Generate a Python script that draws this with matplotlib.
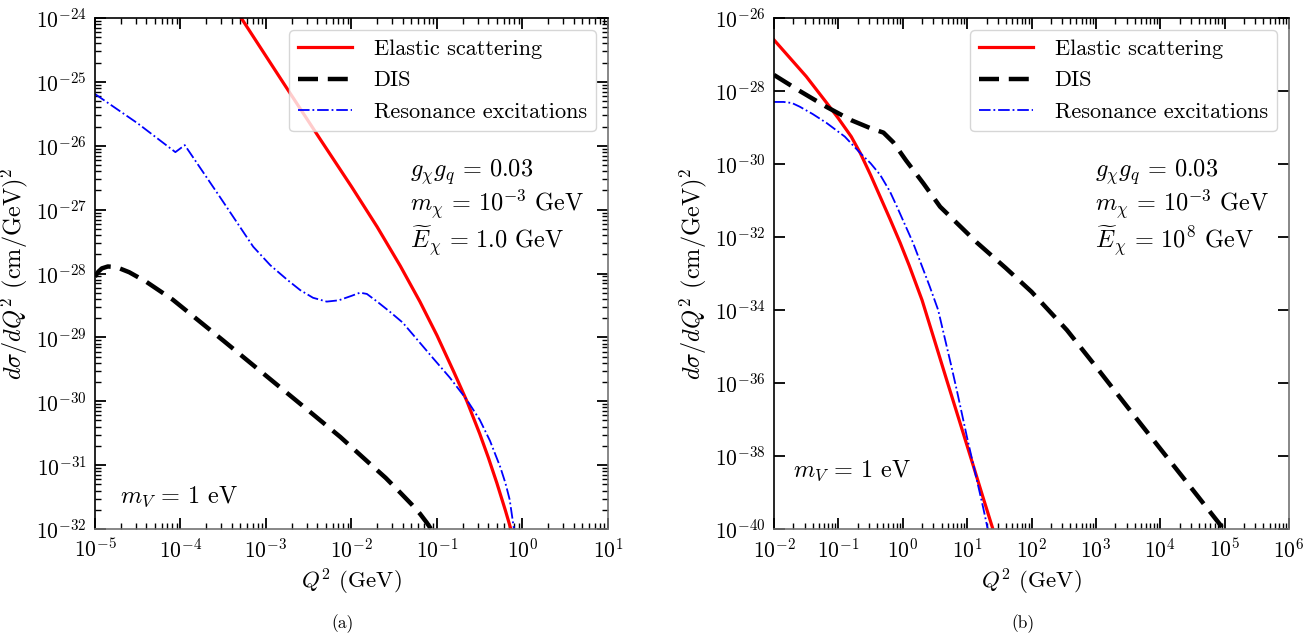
import numpy as np
import matplotlib
matplotlib.use("Agg")
import matplotlib.pyplot as plt
from matplotlib.ticker import LogLocator, NullFormatter, NullLocator

plt.rcParams['font.family'] = 'serif'
plt.rcParams['font.serif'] = ['cmr10']
plt.rcParams['mathtext.fontset'] = 'cm'
plt.rcParams['axes.formatter.use_mathtext'] = True

# ---------------- Panel (a): E = 1 GeV (log10 values) ----------------
a_el_logx = [-3.36, -3.29, -2.80, -2.37, -2.00, -1.70, -1.43, -1.20, -1.00, -0.80, -0.65, -0.50, -0.40, -0.30, -0.20, -0.13, -0.11]
a_el_logy = [-23.86, -24.0, -25.01, -25.89, -26.64, -27.27, -27.88, -28.44, -28.97, -29.55, -30.00, -30.51, -30.88, -31.28, -31.71, -32.03, -32.12]

a_res_logx = [-5.0, -4.5, -4.06, -4.02, -3.95, -3.54, -3.15, -2.95, -2.75, -2.60, -2.45, -2.29, -2.15, -2.00, -1.90, -1.82, -1.70, -1.55, -1.40, -1.05, -0.85, -0.65, -0.50, -0.38, -0.26, -0.20, -0.15, -0.10, -0.09]
a_res_logy = [-25.19, -25.65, -26.10, -26.06, -25.99, -26.80, -27.58, -27.87, -28.10, -28.26, -28.38, -28.44, -28.42, -28.35, -28.30, -28.32, -28.44, -28.60, -28.77, -29.32, -29.63, -29.98, -30.29, -30.62, -31.03, -31.28, -31.54, -32.0, -32.1]

a_dis_logx = [-5.0, -4.96, -4.92, -4.85, -4.75, -4.60, -4.40, -4.09, -3.50, -3.00, -2.50, -2.13, -1.80, -1.60, -1.43, -1.30, -1.20, -1.12, -1.06, -1.05]
a_dis_logy = [-28.05, -27.97, -27.92, -27.89, -27.90, -27.98, -28.13, -28.41, -29.05, -29.60, -30.15, -30.56, -30.96, -31.20, -31.43, -31.61, -31.76, -31.90, -32.02, -32.1]

# ---------------- Panel (b): E = 1e8 GeV (log10 values) ----------------
b_el_logx = [-2.0, -1.75, -1.50, -1.18, -1.00, -0.80, -0.66, -0.50, -0.35, -0.20, -0.04, 0.10, 0.30, 0.50, 0.69, 0.90, 1.10, 1.25, 1.40, 1.42]
b_el_logy = [-26.6, -27.1, -27.6, -28.33, -28.75, -29.25, -29.70, -30.30, -30.90, -31.50, -32.16, -32.78, -33.73, -34.87, -35.96, -37.15, -38.29, -39.15, -40.0, -40.1]

b_res_logx = [-2.0, -1.85, -1.72, -1.60, -1.40, -1.18, -0.90, -0.66, -0.50, -0.35, -0.20, -0.09, 0.16, 0.42, 0.55, 0.65, 0.75, 0.84, 1.00, 1.15, 1.25, 1.32, 1.33]
b_res_logy = [-28.30, -28.30, -28.33, -28.43, -28.63, -28.88, -29.25, -29.70, -29.98, -30.30, -30.75, -31.17, -32.16, -33.36, -34.00, -34.75, -35.50, -36.20, -37.50, -38.65, -39.42, -40.0, -40.1]

b_dis_logx = [-2.0, -1.60, -1.18, -0.80, -0.50, -0.30, -0.15, 0.05, 0.32, 0.58, 0.90, 1.15, 1.60, 2.00, 2.55, 3.00, 3.58, 4.00, 4.35, 4.60, 4.80, 4.93, 4.97, 4.98]
b_dis_logy = [-27.56, -28.0, -28.44, -28.80, -29.02, -29.14, -29.40, -29.90, -30.53, -31.17, -31.72, -32.15, -32.85, -33.50, -34.55, -35.55, -36.86, -37.80, -38.58, -39.14, -39.59, -39.88, -40.0, -40.1]

labels = ["Elastic scattering", "DIS", "Resonance excitations"]

fig = plt.figure(figsize=(13.15, 6.37), dpi=100)
axA = fig.add_axes([95/1315, 108/637, 513/1315, 511/637])
axB = fig.add_axes([774/1315, 108/637, 515/1315, 511/637])

def P(v):
    return 10.0 ** np.array(v)

for ax, el, dis, res in [
    (axA, (a_el_logx, a_el_logy), (a_dis_logx, a_dis_logy), (a_res_logx, a_res_logy)),
    (axB, (b_el_logx, b_el_logy), (b_dis_logx, b_dis_logy), (b_res_logx, b_res_logy)),
]:
    ax.plot(P(el[0]), P(el[1]), color='red', lw=2.3, label=labels[0], solid_joinstyle='round')
    ax.plot(P(dis[0]), P(dis[1]), color='black', lw=3.2, dashes=(4.5, 2.2), label=labels[1])
    ax.plot(P(res[0]), P(res[1]), color='blue', lw=1.3, ls='-.', label=labels[2])
    ax.set_xscale('log')
    ax.set_yscale('log')
    ax.tick_params(which='both', direction='in', top=True, right=True, labelsize=15.5, pad=6)
    ax.tick_params(which='major', length=8, width=1.3)
    ax.tick_params(which='minor', length=4, width=1.0)
    ax.set_xlabel(r'$Q^2$ (GeV)', fontsize=16.5)
    ax.set_ylabel(r'$d\sigma/dQ^2$ (cm/GeV)$^2$', fontsize=17.5, labelpad=4)
    leg = ax.legend(loc='upper right', fontsize=16, handlelength=2.4, frameon=True,
                    borderaxespad=0.55, labelspacing=0.55, handletextpad=1.0)
    leg.get_frame().set_edgecolor('0.8')
    for s in ['bottom', 'right']:
        ax.spines[s].set_color('0.45')
    for s in ax.spines.values():
        s.set_linewidth(1.2)

axA.set_xlim(1e-5, 1e1)
axA.set_ylim(1e-32, 1e-24)
axA.xaxis.set_major_locator(LogLocator(base=10, numticks=20))
axA.xaxis.set_minor_locator(LogLocator(base=10, subs=np.arange(2, 10), numticks=20))
axA.yaxis.set_major_locator(LogLocator(base=10, numticks=20))
axA.yaxis.set_minor_locator(LogLocator(base=10, subs=np.arange(2, 10), numticks=20))
axA.xaxis.set_minor_formatter(NullFormatter())
axA.yaxis.set_minor_formatter(NullFormatter())

axB.set_xlim(1e-2, 1e6)
axB.set_ylim(1e-40, 1e-26)
axB.xaxis.set_major_locator(LogLocator(base=10, numticks=20))
axB.xaxis.set_minor_locator(LogLocator(base=10, subs=np.arange(2, 10), numticks=20))
axB.xaxis.set_minor_formatter(NullFormatter())
axB.yaxis.set_major_locator(LogLocator(base=100, numticks=20))
axB.yaxis.set_minor_locator(NullLocator())

txtA = "$g_\\chi g_q\\,=\\,0.03$\n$m_\\chi\\,=\\,10^{-3}$ GeV\n$\\widetilde{E}_\\chi\\,=\\,1.0$ GeV"
txtB = "$g_\\chi g_q\\,=\\,0.03$\n$m_\\chi\\,=\\,10^{-3}$ GeV\n$\\widetilde{E}_\\chi\\,=\\,10^8$ GeV"
fig.text(410/1315, 1 - 157/637, txtA, fontsize=17.5, va='top', ha='left', linespacing=1.05)
fig.text(1095/1315, 1 - 157/637, txtB, fontsize=17.5, va='top', ha='left', linespacing=1.05)
fig.text(120/1315, 1 - 497/637, "$m_V\\,=\\,1$ eV", fontsize=17.5, va='center', ha='left')
fig.text(793/1315, 1 - 471/637, "$m_V\\,=\\,1$ eV", fontsize=17.5, va='center', ha='left')

fig.text(343/1315, 1 - 624/637, "(a)", fontsize=12.5, ha='center', va='center')
fig.text(1023/1315, 1 - 624/637, "(b)", fontsize=12.5, ha='center', va='center')

fig.savefig("out.png", dpi=100)
